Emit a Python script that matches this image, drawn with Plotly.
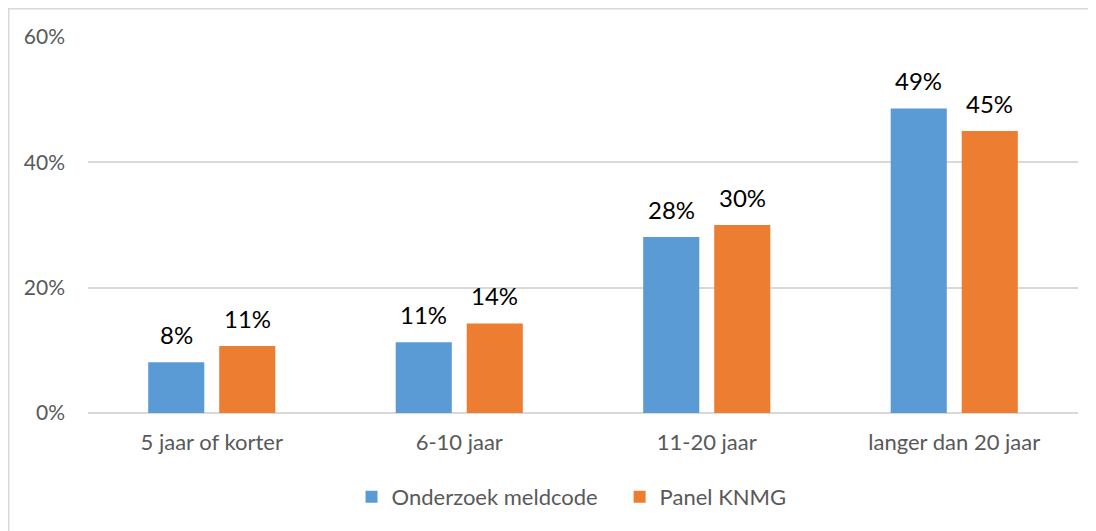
import plotly.graph_objects as go

categories = ["5 jaar of korter", "6-10 jaar", "11-20 jaar", "langer dan 20 jaar"]
onderzoek = [8.1, 11.3, 28.1, 48.6]
panel = [10.7, 14.3, 30.0, 45.0]
series_names = ["Onderzoek meldcode", "Panel KNMG"]
tick_vals = [0, 20, 40, 60]
tick_text = ["0%", "20%", "40%", "60%"]

font_family = "Lato, Carlito, Calibri, sans-serif"
colors = ["#5B9BD5", "#ED7D31"]

fig = go.Figure()
for name, vals, col in zip(series_names, [onderzoek, panel], colors):
    fig.add_trace(go.Bar(
        name=name + "   ", x=categories, y=vals,
        marker=dict(color=col, line=dict(width=0)),
    ))

# data labels placed at the bar tops via data coordinates
annotations = []
for shift, vals in zip([-35.5, 35.5], [onderzoek, panel]):
    for c, v in zip(categories, vals):
        annotations.append(dict(
            x=c, y=v, xref="x", yref="y", xshift=shift, yshift=11,
            text=f"{round(v)}%", showarrow=False, xanchor="center", yanchor="bottom",
            font=dict(size=24, color="#000000", family=font_family),
        ))

W, H = 1088, 523
L, R, T, B = 80, 18, 29, 118
pw = W - L - R
ph = H - T - B

fig.update_layout(
    width=W, height=H,
    margin=dict(l=L, r=R, t=T, b=B, pad=0, autoexpand=False),
    paper_bgcolor="white", plot_bgcolor="white",
    barmode="group", bargap=0.426, bargroupgap=0.21,
    font=dict(family=font_family, size=21, color="#595959"),
    showlegend=True,
    legend=dict(orientation="h", x=0.497, xanchor="center", y=-0.223, yanchor="middle",
                font=dict(size=22, color="#595959"), itemsizing="constant",
                traceorder="normal", itemwidth=30),
    xaxis=dict(showgrid=False, showline=False, ticks="", ticklabelstandoff=14,
               tickfont=dict(size=22, color="#595959")),
    yaxis=dict(range=[0, 60], tickvals=tick_vals, ticktext=tick_text, showgrid=True,
               gridcolor="#D9D9D9", gridwidth=1.5, zeroline=True, zerolinecolor="#D9D9D9",
               zerolinewidth=1.5, showline=False, ticks="", ticklabelstandoff=22,
               tickfont=dict(size=21, color="#595959")),
    annotations=annotations,
    shapes=[dict(type="rect", xref="paper", yref="paper",
                 x0=(0.75 - L) / pw, x1=(W + 20 - L) / pw,
                 y0=(H - B - (H + 20)) / ph, y1=(H - B - 0.75) / ph,
                 line=dict(color="#D9D9D9", width=1.5), fillcolor="rgba(0,0,0,0)", layer="below")],
)

fig.write_html("out.html")
